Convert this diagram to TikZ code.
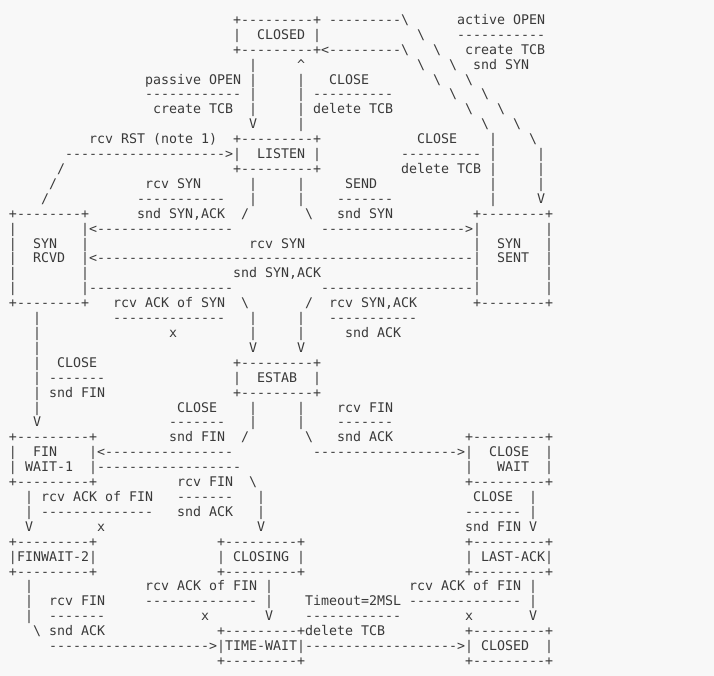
\documentclass[tikz,border=0pt]{standalone}
\usepackage{fontspec}
\setmonofont{DejaVu Sans Mono}
\definecolor{ink}{HTML}{3A3A3A}
\definecolor{paper}{HTML}{F8F8F8}
\newcommand\bs{\textbackslash}
% one cell run of the character grid: row, column, text
\newcommand\T[3]{\node[cell] (c#1-#2) at ({9+8*#2},{-24.4-14.91*#1}) {#3};}
\begin{document}
\begin{tikzpicture}[x=1pt,y=1pt,
  cell/.style={anchor=base west,inner sep=0pt,outer sep=0pt,text=ink,
    font=\ttfamily\fontsize{13.29pt}{15pt}\selectfont}]
\fill[paper] (0,0) rectangle (714,-676);
\useasboundingbox (0,0) rectangle (714,-676);
% CLOSED and active open
\T{0}{28}{+---------+~---------\bs}\T{0}{56}{active OPEN}
\T{1}{28}{|~~CLOSED~|}\T{1}{51}{\bs}\T{1}{56}{-----------}
\T{2}{28}{+---------+<---------\bs}\T{2}{53}{\bs}\T{2}{57}{create TCB}
\T{3}{30}{|}\T{3}{36}{\textasciicircum}\T{3}{51}{\bs}\T{3}{55}{\bs}\T{3}{58}{snd SYN}
\T{4}{17}{passive OPEN}\T{4}{30}{|}\T{4}{36}{|}\T{4}{40}{CLOSE}\T{4}{53}{\bs}\T{4}{57}{\bs}
\T{5}{17}{------------}\T{5}{30}{|}\T{5}{36}{|}\T{5}{38}{----------}\T{5}{55}{\bs}\T{5}{59}{\bs}
\T{6}{18}{create TCB}\T{6}{30}{|}\T{6}{36}{|}\T{6}{38}{delete TCB}\T{6}{57}{\bs}\T{6}{61}{\bs}
\T{7}{30}{V}\T{7}{36}{|}\T{7}{59}{\bs}\T{7}{63}{\bs}
% LISTEN
\T{8}{10}{rcv RST (note 1)}\T{8}{28}{+---------+}\T{8}{51}{CLOSE}\T{8}{60}{|}\T{8}{65}{\bs}
\T{9}{7}{-------------------->|~~LISTEN~|}\T{9}{49}{----------}\T{9}{60}{|}\T{9}{66}{|}
\T{10}{6}{/}\T{10}{28}{+---------+}\T{10}{49}{delete TCB}\T{10}{60}{|}\T{10}{66}{|}
\T{11}{5}{/}\T{11}{17}{rcv SYN}\T{11}{30}{|}\T{11}{36}{|}\T{11}{42}{SEND}\T{11}{60}{|}\T{11}{66}{|}
\T{12}{4}{/}\T{12}{16}{-----------}\T{12}{30}{|}\T{12}{36}{|}\T{12}{41}{-------}\T{12}{60}{|}\T{12}{66}{V}
% SYN RCVD and SYN SENT
\T{13}{0}{+--------+}\T{13}{16}{snd SYN,ACK}\T{13}{29}{/}\T{13}{37}{\bs}\T{13}{41}{snd SYN}\T{13}{58}{+--------+}
\T{14}{0}{|~~~~~~~~|<-----------------}\T{14}{39}{------------------>|~~~~~~~~|}
\T{15}{0}{|}\T{15}{3}{SYN}\T{15}{9}{|}\T{15}{30}{rcv SYN}\T{15}{58}{|}\T{15}{61}{SYN}\T{15}{67}{|}
\T{16}{0}{|}\T{16}{3}{RCVD}\T{16}{9}{|<-----------------------------------------------|}\T{16}{61}{SENT}\T{16}{67}{|}
\T{17}{0}{|}\T{17}{9}{|}\T{17}{28}{snd SYN,ACK}\T{17}{58}{|}\T{17}{67}{|}
\T{18}{0}{|~~~~~~~~|------------------}\T{18}{39}{-------------------|~~~~~~~~|}
\T{19}{0}{+--------+}\T{19}{13}{rcv ACK of SYN}\T{19}{29}{\bs}\T{19}{37}{/}\T{19}{40}{rcv SYN,ACK}\T{19}{58}{+--------+}
\T{20}{3}{|}\T{20}{13}{--------------}\T{20}{30}{|}\T{20}{36}{|}\T{20}{40}{-----------}
\T{21}{3}{|}\T{21}{20}{x}\T{21}{30}{|}\T{21}{36}{|}\T{21}{42}{snd ACK}
\T{22}{3}{|}\T{22}{30}{V}\T{22}{36}{V}
% ESTAB
\T{23}{3}{|}\T{23}{6}{CLOSE}\T{23}{28}{+---------+}
\T{24}{3}{|}\T{24}{5}{-------}\T{24}{28}{|~~ESTAB~~|}
\T{25}{3}{|}\T{25}{5}{snd FIN}\T{25}{28}{+---------+}
\T{26}{3}{|}\T{26}{21}{CLOSE}\T{26}{30}{|}\T{26}{36}{|}\T{26}{41}{rcv FIN}
\T{27}{3}{V}\T{27}{20}{-------}\T{27}{30}{|}\T{27}{36}{|}\T{27}{41}{-------}
% FIN WAIT-1 and CLOSE WAIT
\T{28}{0}{+---------+}\T{28}{20}{snd FIN}\T{28}{29}{/}\T{28}{37}{\bs}\T{28}{41}{snd ACK}\T{28}{57}{+---------+}
\T{29}{0}{|~~FIN~~~~|<----------------}\T{29}{38}{------------------>|~~CLOSE~~|}
\T{30}{0}{|~WAIT-1~~|------------------}\T{30}{57}{|~~~WAIT~~|}
\T{31}{0}{+---------+}\T{31}{21}{rcv FIN}\T{31}{30}{\bs}\T{31}{57}{+---------+}
\T{32}{2}{|}\T{32}{4}{rcv ACK of FIN}\T{32}{21}{-------}\T{32}{31}{|}\T{32}{58}{CLOSE}\T{32}{65}{|}
\T{33}{2}{|}\T{33}{4}{--------------}\T{33}{21}{snd ACK}\T{33}{31}{|}\T{33}{57}{-------}\T{33}{65}{|}
\T{34}{2}{V}\T{34}{11}{x}\T{34}{31}{V}\T{34}{57}{snd FIN}\T{34}{65}{V}
% FINWAIT-2, CLOSING and LAST-ACK
\T{35}{0}{+---------+}\T{35}{26}{+---------+}\T{35}{57}{+---------+}
\T{36}{0}{|FINWAIT-2|}\T{36}{26}{|~CLOSING~|}\T{36}{57}{|~LAST-ACK|}
\T{37}{0}{+---------+}\T{37}{26}{+---------+}\T{37}{57}{+---------+}
\T{38}{2}{|}\T{38}{17}{rcv ACK of FIN}\T{38}{32}{|}\T{38}{50}{rcv ACK of FIN}\T{38}{65}{|}
\T{39}{2}{|}\T{39}{5}{rcv FIN}\T{39}{17}{--------------}\T{39}{32}{|}\T{39}{37}{Timeout=2MSL}\T{39}{50}{--------------}\T{39}{65}{|}
\T{40}{2}{|}\T{40}{5}{-------}\T{40}{24}{x}\T{40}{32}{V}\T{40}{37}{------------}\T{40}{57}{x}\T{40}{65}{V}
% TIME-WAIT and CLOSED
\T{41}{3}{\bs}\T{41}{5}{snd ACK}\T{41}{26}{+---------+delete TCB}\T{41}{57}{+---------+}
\T{42}{5}{-------------------->|TIME-WAIT|------------------->|~CLOSED~~|}
\T{43}{26}{+---------+}\T{43}{57}{+---------+}
\end{tikzpicture}
\end{document}
